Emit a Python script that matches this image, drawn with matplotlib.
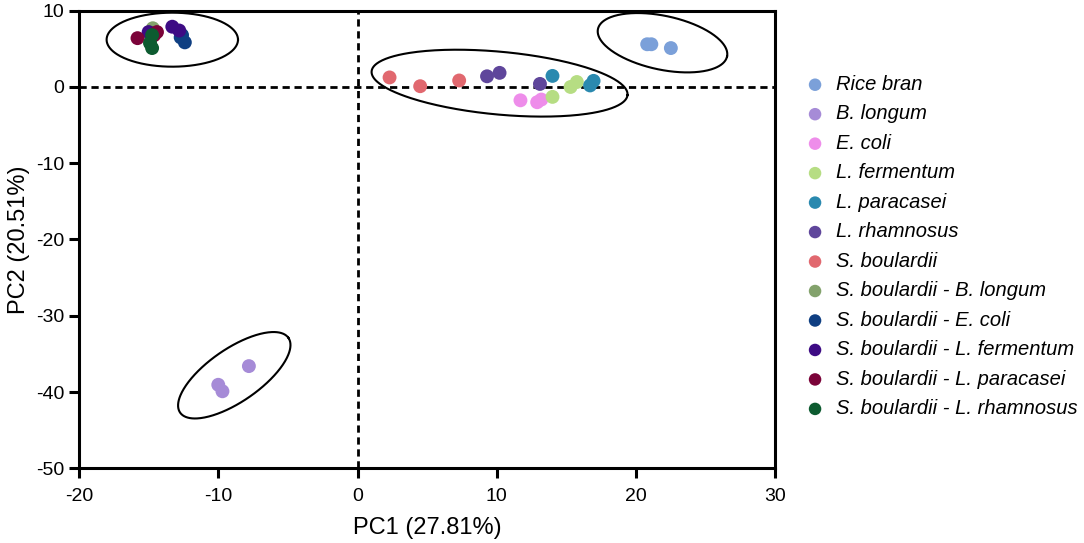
import numpy as np
import matplotlib
matplotlib.use("Agg")
import matplotlib.pyplot as plt

# =========================
# Data
# =========================
groups = [
    "Rice bran", "B. longum", "E. coli", "L. fermentum", "L. paracasei",
    "L. rhamnosus", "S. boulardii", "S. boulardii - B. longum",
    "S. boulardii - E. coli", "S. boulardii - L. fermentum",
    "S. boulardii - L. paracasei", "S. boulardii - L. rhamnosus",
]
colors = [
    "#7BA0D9", "#A68BD7", "#EE8DEA", "#B6DD83", "#2A89AF", "#5F469B",
    "#E1686F", "#83A26C", "#0F3F82", "#3D0B84", "#7B0339", "#0D5B30",
]

pc1 = [
    [20.8, 21.1, 22.5],
    [-7.8, -10.0, -9.7],
    [11.7, 12.9, 13.2],
    [15.3, 15.75, 14.0],
    [14.0, 16.7, 16.95],
    [9.3, 10.2, 13.1],
    [2.3, 4.5, 7.3],
    [-14.7, -14.8, -14.9],
    [-12.4, -12.6, -12.7],
    [-15.0, -13.3, -12.8],
    [-15.8, -14.4, -14.6],
    [-14.75, -14.9, -14.75],
]
pc2 = [
    [5.6, 5.6, 5.1],
    [-36.6, -39.05, -39.9],
    [-1.75, -2.0, -1.65],
    [0.0, 0.65, -1.3],
    [1.45, 0.2, 0.8],
    [1.4, 1.85, 0.4],
    [1.25, 0.1, 0.85],
    [7.7, 6.5, 6.0],
    [5.85, 6.8, 6.5],
    [7.2, 7.9, 7.4],
    [6.4, 7.2, 6.8],
    [6.8, 5.75, 5.1],
]

# ellipses: centre (PC1, PC2), semi-axes in pixels, tilt in degrees (screen)
ell_cx = [-13.3, 10.2, 21.9, -8.85]
ell_cy = [6.2, 0.5, 5.8, -37.8]
ell_a = [65.7, 128.5, 66.0, 65.8]
ell_b = [27.0, 31.4, 26.9, 26.4]
ell_ang = [0.0, -5.3, -12.0, 34.6]

plt.rcParams['font.family'] = ['Liberation Sans', 'DejaVu Sans']
plt.rcParams['axes.unicode_minus'] = False

# =========================
# Plot
# =========================
W, H = 1084, 543
fig = plt.figure(figsize=(W / 100, H / 100), dpi=100)
ax = fig.add_axes([79 / W, 1 - 468.3 / H, (775.3 - 79) / W, (468.3 - 10.7) / H])

ax.set_xlim(-20, 30)
ax.set_ylim(-50, 10)
ax.set_xticks([-20, -10, 0, 10, 20, 30])
ax.set_yticks([-50, -40, -30, -20, -10, 0, 10])

ax.axhline(0, color="black", lw=2, ls=(0, (2.6, 1.7)), zorder=1)
ax.axvline(0, color="black", lw=2, ls=(0, (2.6, 1.7)), zorder=1)

for name, col, xs, ys in zip(groups, colors, pc1, pc2):
    ax.scatter(xs, ys, s=100, color=col, edgecolors="none", label=name, zorder=3)

# pixels per data unit
bbox = ax.get_position()
sx = bbox.width * W / 50.0
sy = bbox.height * H / 60.0
t = np.linspace(0, 2 * np.pi, 300)
for cx, cy, a, b, ang in zip(ell_cx, ell_cy, ell_a, ell_b, ell_ang):
    th = np.deg2rad(ang)
    u = a * np.cos(t) * np.cos(th) - b * np.sin(t) * np.sin(th)
    v = a * np.cos(t) * np.sin(th) + b * np.sin(t) * np.cos(th)
    ax.plot(cx + u / sx, cy + v / sy, color="black", lw=1.5, zorder=2)

for sp in ax.spines.values():
    sp.set_linewidth(2.2)
ax.tick_params(width=2.2, length=7.5, labelsize=14)
ax.tick_params(axis="x", pad=6.5)
ax.tick_params(axis="y", pad=3)

ax.set_xlabel("PC1 (27.81%)", fontsize=17, labelpad=9)
ax.set_ylabel("PC2 (20.51%)", fontsize=17, labelpad=4)

ax.legend(loc="upper left", bbox_to_anchor=(806 / W, 1 - 75 / H),
          bbox_transform=fig.transFigure, frameon=False,
          prop={"size": 14.5, "style": "italic"}, handletextpad=0.6,
          labelspacing=0.52, markerscale=0.9, borderaxespad=0, borderpad=0,
          handlelength=0.9)

fig.savefig("out.png", dpi=100)
